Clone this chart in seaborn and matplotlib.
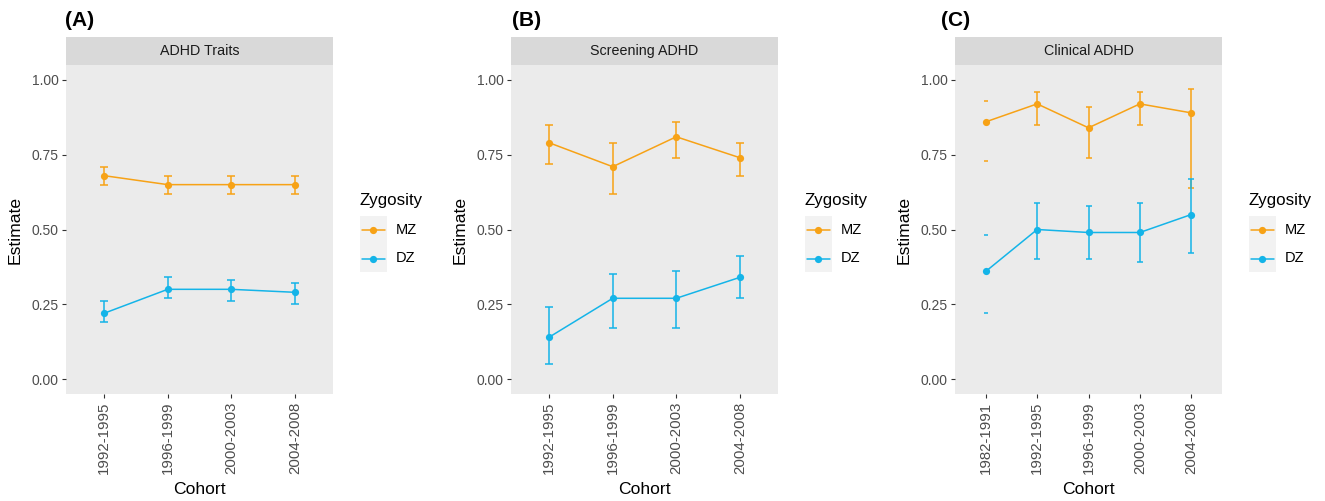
import numpy as np
import pandas as pd
import matplotlib
matplotlib.use("Agg")
import matplotlib.pyplot as plt
import seaborn as sns
from matplotlib.lines import Line2D
from matplotlib.patches import Rectangle

# (A) ADHD Traits
traits_cohort = ["1992-1995", "1996-1999", "2000-2003", "2004-2008"]
traits_mz = [0.68, 0.65, 0.65, 0.65]
traits_mz_lo = [0.65, 0.62, 0.62, 0.62]
traits_mz_hi = [0.71, 0.68, 0.68, 0.68]
traits_dz = [0.22, 0.30, 0.30, 0.29]
traits_dz_lo = [0.19, 0.27, 0.26, 0.25]
traits_dz_hi = [0.26, 0.34, 0.33, 0.32]

# (B) Screening ADHD
screen_cohort = ["1992-1995", "1996-1999", "2000-2003", "2004-2008"]
screen_mz = [0.79, 0.71, 0.81, 0.74]
screen_mz_lo = [0.72, 0.62, 0.74, 0.68]
screen_mz_hi = [0.85, 0.79, 0.86, 0.79]
screen_dz = [0.14, 0.27, 0.27, 0.34]
screen_dz_lo = [0.05, 0.17, 0.17, 0.27]
screen_dz_hi = [0.24, 0.35, 0.36, 0.41]

# (C) Clinical ADHD
clin_cohort = ["1982-1991", "1992-1995", "1996-1999", "2000-2003", "2004-2008"]
clin_mz = [0.86, 0.92, 0.84, 0.92, 0.89]
clin_mz_lo = [0.73, 0.85, 0.74, 0.85, 0.64]
clin_mz_hi = [0.93, 0.96, 0.91, 0.96, 0.97]
clin_dz = [0.36, 0.50, 0.49, 0.49, 0.55]
clin_dz_lo = [0.22, 0.40, 0.40, 0.39, 0.42]
clin_dz_hi = [0.48, 0.59, 0.58, 0.59, 0.67]
# cohorts where only the caps of the interval are drawn
caps_only = ["1982-1991"]

zyg_levels = ["MZ", "DZ"]
zyg_colors = {"MZ": "#F7A216", "DZ": "#14B4E8"}

W, H = 1325, 501

sns.set_style("white")
plt.rcParams["font.family"] = ["Liberation Sans", "DejaVu Sans"]
plt.rcParams["text.color"] = "black"
plt.rcParams["axes.labelcolor"] = "black"

fig = plt.figure(figsize=(W / 100, H / 100), dpi=100)


def px_box(left, top, right, bottom):
    return [left / W, 1 - bottom / H, (right - left) / W, (bottom - top) / H]


def draw_panel(left, tag_x, tag, title, cohorts, mz, mz_lo, mz_hi, dz, dz_lo, dz_hi, cap):
    right = left + 267
    ax = fig.add_axes(px_box(left, 65, right, 394))
    ax.set_facecolor("#EBEBEB")

    df = pd.DataFrame({
        "Cohort": cohorts * 2,
        "Estimate": mz + dz,
        "Zygosity": ["MZ"] * len(cohorts) + ["DZ"] * len(cohorts),
    })
    sns.pointplot(data=df, x="Cohort", y="Estimate", hue="Zygosity",
                  order=cohorts, hue_order=zyg_levels, palette=zyg_colors,
                  markers="o", errorbar=None, legend=False, ax=ax,
                  markersize=5.2, linewidth=1.1, markeredgewidth=0)

    pos = np.arange(len(cohorts))
    drop = np.array([c in caps_only for c in cohorts])
    for zyg, est, lo, hi in [("MZ", mz, mz_lo, mz_hi), ("DZ", dz, dz_lo, dz_hi)]:
        est, lo, hi = np.array(est), np.array(lo), np.array(hi)
        keep = ~drop
        ax.errorbar(pos[keep], est[keep], yerr=[est[keep] - lo[keep], hi[keep] - est[keep]],
                    fmt="none", ecolor=zyg_colors[zyg], elinewidth=1.1,
                    capsize=cap, capthick=1.1, zorder=1.5)
        if drop.any():
            ax.errorbar(pos[drop], est[drop], yerr=[est[drop] - lo[drop], hi[drop] - est[drop]],
                        fmt="none", ecolor=zyg_colors[zyg], elinewidth=0,
                        capsize=cap * 0.7, capthick=1.1, zorder=1.5)

    n = len(cohorts)
    ax.set_xlim(-0.6, n - 0.4)
    ax.set_ylim(-0.05, 1.05)
    ax.set_yticks([0, 0.25, 0.5, 0.75, 1.0])
    ax.set_yticklabels(["0.00", "0.25", "0.50", "0.75", "1.00"])
    ax.set_xticks(pos)
    ax.set_xticklabels(cohorts, rotation=90)
    for s in ax.spines.values():
        s.set_visible(False)
    ax.grid(False)
    ax.tick_params(axis="both", colors="#333333", length=3.2, width=0.8,
                   bottom=True, left=True)
    ax.tick_params(axis="y", labelsize=10, labelcolor="#4D4D4D", pad=2.2)
    ax.tick_params(axis="x", labelsize=10.8, labelcolor="#4D4D4D", pad=2.5)

    ax.set_ylabel("Estimate", fontsize=12.6, color="black")
    ax.yaxis.label.set_va("center")
    ax.yaxis.set_label_coords(-0.19, 0.5)
    ax.set_xlabel("Cohort", fontsize=12.6, color="black")
    ax.xaxis.label.set_va("center")
    ax.xaxis.set_label_coords(0.5, -0.289)

    # facet strip
    strip = fig.add_axes(px_box(left, 37, right, 65))
    strip.set_facecolor("#D9D9D9")
    strip.set_xticks([])
    strip.set_yticks([])
    for s in strip.spines.values():
        s.set_visible(False)
    strip.text(0.5, 0.5, title, ha="center", va="center", fontsize=10.3,
               color="#1A1A1A", transform=strip.transAxes)

    # panel tag
    fig.text(tag_x / W, 1 - 21 / H, tag, ha="left", va="center",
             fontsize=15, fontweight="bold", color="black")

    # legend
    lx = right + 26.5
    fig.text(lx / W, 1 - 200 / H, "Zygosity", ha="left", va="center",
             fontsize=12.2, color="black")
    fig.add_artist(Rectangle((lx / W, 1 - 272 / H), 27.5 / W, 56 / H,
                             transform=fig.transFigure, facecolor="#F2F2F2",
                             edgecolor="none"))
    for zyg, yy in zip(zyg_levels, [230, 258.5]):
        fig.add_artist(Line2D([(lx + 2.5) / W, (lx + 25) / W], [1 - yy / H] * 2,
                              transform=fig.transFigure, color=zyg_colors[zyg], lw=1.1))
        fig.add_artist(Line2D([(lx + 13.75) / W], [1 - yy / H], marker="o",
                              markersize=5.2, markeredgewidth=0,
                              transform=fig.transFigure, color=zyg_colors[zyg]))
        fig.text((lx + 36) / W, 1 - yy / H, zyg, ha="left", va="center",
                 fontsize=10.5, color="black")
    return ax


draw_panel(66, 65, "(A)", "ADHD Traits", traits_cohort, traits_mz, traits_mz_lo,
           traits_mz_hi, traits_dz, traits_dz_lo, traits_dz_hi, 2.8)
draw_panel(511, 512, "(B)", "Screening ADHD", screen_cohort, screen_mz, screen_mz_lo,
           screen_mz_hi, screen_dz, screen_dz_lo, screen_dz_hi, 2.8)
draw_panel(955, 941, "(C)", "Clinical ADHD", clin_cohort, clin_mz, clin_mz_lo,
           clin_mz_hi, clin_dz, clin_dz_lo, clin_dz_hi, 2.2)

fig.savefig("out.png", dpi=100, facecolor="white")
